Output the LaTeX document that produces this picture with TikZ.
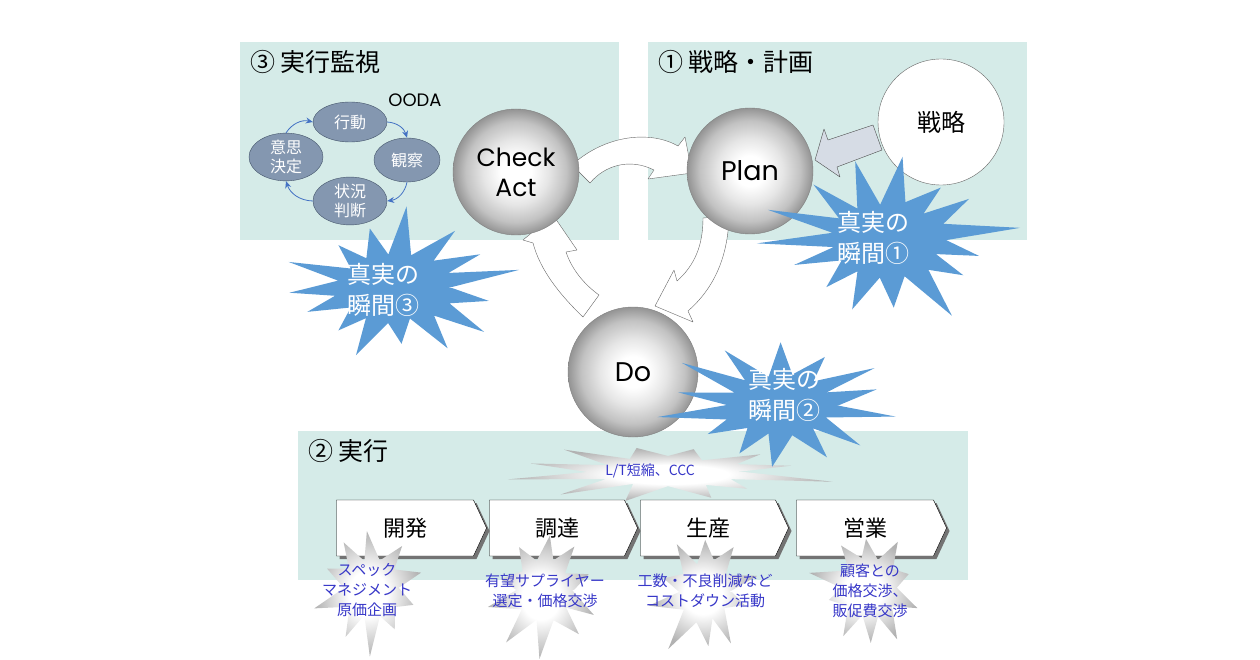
\documentclass[tikz,border=0pt]{standalone}
\usepackage{fontspec}
\setmainfont{Noto Sans CJK JP}
\newfontfamily\latinfont{Poppins}
\usepackage{tikz}
\usetikzlibrary{shapes.symbols,shapes.geometric,shadows,arrows.meta,positioning}

\definecolor{panelteal}{RGB}{213,235,232}
\definecolor{starblue}{RGB}{91,155,213}
\definecolor{oodafill}{RGB}{132,151,176}
\definecolor{oodaline}{RGB}{68,84,106}
\definecolor{oodaarrow}{RGB}{68,114,196}
\definecolor{notetext}{RGB}{55,55,200}
\definecolor{arrowgray}{RGB}{214,220,229}

\pgfdeclareradialshading{spheregrad}{\pgfpoint{0bp}{0bp}}{color(0bp)=(white); color(6bp)=(white); color(13bp)=(black!10); color(20bp)=(black!24); color(25bp)=(black!42); color(50bp)=(black!42)}
\pgfdeclareradialshading{burstgrad}{\pgfpoint{0bp}{0bp}}{color(0bp)=(white); color(9bp)=(white); color(25bp)=(black!30); color(50bp)=(black!30)}

\tikzset{
  paneltitle/.style={anchor=west, inner sep=0pt, font=\fontsize{25}{28}\selectfont},
  ooda/.style={ellipse, draw=oodaline, fill=oodafill, text=white, inner sep=0pt,
    align=center, font=\fontsize{16}{19}\selectfont},
  oodaarr/.style={oodaarrow, thick, -{Stealth[length=7pt,width=6pt]}},
  sphere/.style={circle, draw=black!50, shading=spheregrad, minimum size=126pt, align=center,
    font=\latinfont\fontsize{25}{30}\selectfont},
  blockarrow/.style={fill=white, draw=black!60, line join=round},
  chevron/.style={signal, signal to=east, signal from=nowhere, signal pointer angle=130,
    draw=black, fill=white, minimum width=150pt, minimum height=56pt,
    font=\fontsize{22}{26}\selectfont,
    drop shadow={shadow xshift=3pt, shadow yshift=-3pt, fill=black!55, opacity=1}},
  bluestar/.style={fill=starblue},
  graystar/.style={shading=burstgrad},
  startext/.style={text=white, align=center, font=\fontsize{24}{31}\selectfont},
  note/.style={text=notetext, align=center, font=\fontsize{15}{20}\selectfont},
  pics/burst/.style n args={3}{code={
    \pgfmathsetseed{#3}
    \path[pic actions] (0:1) foreach \k [evaluate=\k as \a using {(\k-0.5+0.35*(rnd-0.5))*360/#1},
        evaluate=\k as \r using {1+(#2-1)*(0.55+0.9*rnd)},
        evaluate=\k as \b using {\k*360/#1},
        evaluate=\k as \q using {0.88+0.2*rnd}] in {1,...,#1}
      { -- (\a:\r) -- (\b:\q) } -- cycle;
  }}
}

\begin{document}
\begin{tikzpicture}[x=1pt,y=-1pt]
\useasboundingbox (0,0) rectangle (1260,660);

% panels
\fill[panelteal] (240,42) rectangle (619,240);
\fill[panelteal] (648,42) rectangle (1027,240);
\fill[panelteal] (298,431) rectangle (968,580);

\node[paneltitle] (t3) at (250,62) {③ 実行監視};
\node[paneltitle] (t1) at (658,62) {① 戦略・計画};
\node[paneltitle] (t2) at (308,451) {② 実行};

% OODA loop
\node[ooda, minimum width=74pt, minimum height=40pt] (act) at (350,122) {行動};
\node[ooda, minimum width=66pt, minimum height=44pt] (obs) at (407,160) {観察};
\node[ooda, minimum width=74pt, minimum height=44pt] (orient) at (350,201) {状況\\判断};
\node[ooda, minimum width=74pt, minimum height=46pt] (decide) at (286,157) {意思\\決定};
\node[font=\latinfont\fontsize{18}{20}\selectfont] (oodalabel) at (415,100) {OODA};

\draw[oodaarr] (decide.north) to[bend left=35] (act.west);
\draw[oodaarr] (act.east) to[bend left=35] (obs.north);
\draw[oodaarr] (obs.south) to[bend left=35] (orient.east);
\draw[oodaarr] (orient.west) to[bend left=35] (decide.south);

% PDCA block arrows
\draw[blockarrow] (572,165) .. controls (605,135) and (650,130) .. (678,146)
  -- (685,137) -- (692,173) -- (648,179) -- (654,170)
  .. controls (630,158) and (605,165) .. (590,183) -- cycle;
\draw[blockarrow] (729,216) .. controls (728,260) and (712,290) .. (688,311)
  -- (693,322) -- (655,306) -- (674,270) -- (677,281)
  .. controls (695,265) and (703,245) .. (703,218) -- cycle;
\draw[blockarrow] (583,317) .. controls (560,295) and (540,270) .. (533,243)
  -- (523,240) -- (553,215) -- (577,250) -- (566,252)
  .. controls (572,270) and (585,285) .. (599,295) -- cycle;

% strategy arrow
\draw[fill=arrowgray, draw=black!70, line join=round]
  (873,125) -- (828,140) -- (824,129) -- (815,160) -- (840,177) -- (837,167) -- (882,150) -- cycle;

% spheres
\node[sphere] (check) at (516,172) {Check\\Act};
\node[sphere, font=\latinfont\fontsize{27}{30}\selectfont] (plan) at (750,171) {Plan};
\node[sphere, minimum size=130pt, font=\latinfont\fontsize{27}{30}\selectfont] (do) at (633,372) {Do};
\node[circle, draw=black!60, fill=white, minimum size=126pt,
  font=\fontsize{24}{28}\selectfont] (strategy) at (941,122) {戦略};

% value chain
\node[chevron] (dev) at (405,528) {開発};
\node[chevron, minimum width=148pt] (buy) at (557,528) {調達};
\node[chevron, minimum width=148pt] (make) at (708,528) {生産};
\node[chevron] (sell) at (865,528) {営業};

% gray bursts
\pic[graystar, xscale=76, yscale=15] (ltstar) at (668,472) {burst={12}{1.9}{11}};
\node[note, font=\fontsize{14}{18}\selectfont] (ltnote) at (650,471) {L/T短縮、CCC};

\pic[graystar, xscale=27, yscale=31] (s1) at (372,588) {burst={10}{1.9}{21}};
\node[note] (n1) at (367,590) {スペック\\マネジメント\\原価企画};
\pic[graystar, xscale=27, yscale=31] (s2) at (545,590) {burst={10}{1.9}{33}};
\node[note] (n2) at (545,591) {有望サプライヤー\\選定・価格交渉};
\pic[graystar, xscale=27, yscale=31] (s3) at (705,592) {burst={10}{1.9}{45}};
\node[note] (n3) at (705,591) {工数・不良削減など\\コストダウン活動};
\pic[graystar, xscale=27, yscale=31] (s4) at (870,588) {burst={10}{1.9}{57}};
\node[note] (n4) at (870,591) {顧客との\\価格交渉、\\販促費交渉};

% moments of truth
\pic[bluestar, xscale=60, yscale=38] (m1) at (886,240) {burst={15}{1.9}{7}};
\node[startext] (m1t) at (873,238) {真実の\\瞬間①};
\pic[bluestar, xscale=58, yscale=36] (m3) at (394,288) {burst={15}{1.9}{41}};
\node[startext] (m3t) at (383,290) {真実の\\瞬間③};
\pic[bluestar, xscale=55, yscale=31] (m2) at (780,405) {burst={14}{1.9}{29}};
\node[startext] (m2t) at (784,395) {真実の\\瞬間②};
\end{tikzpicture}
\end{document}
